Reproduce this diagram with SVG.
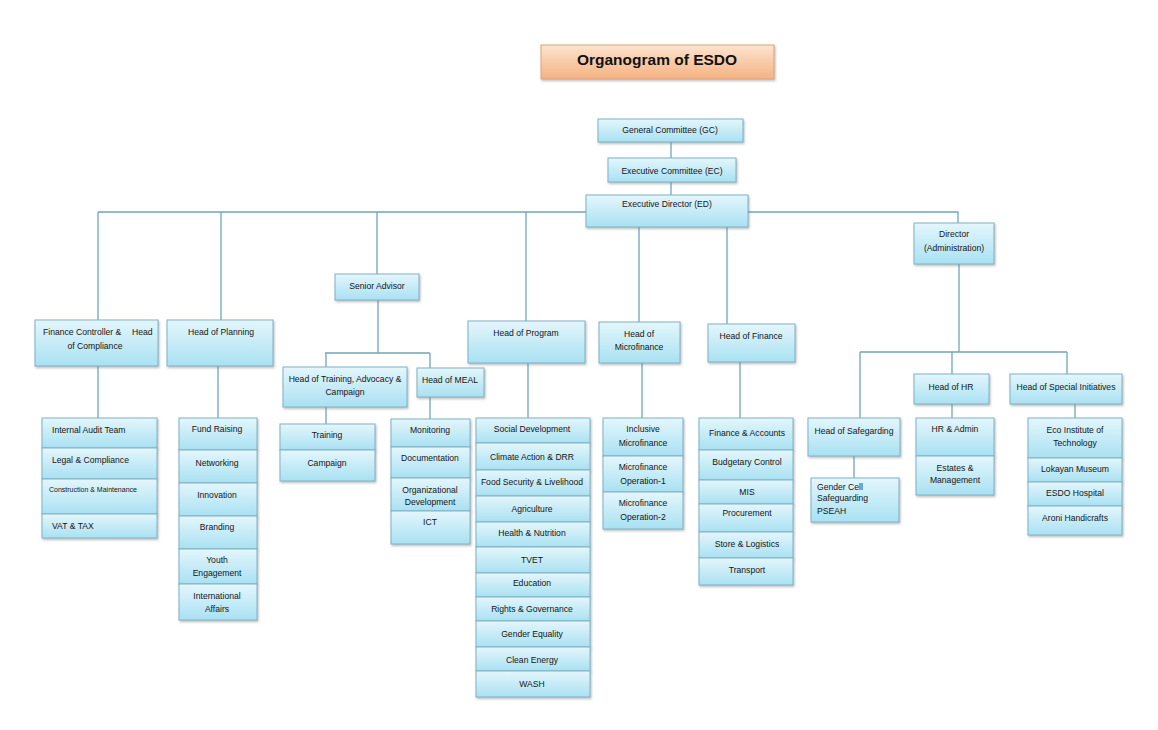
<svg xmlns="http://www.w3.org/2000/svg" width="1158" height="730" viewBox="0 0 1158 730">
<defs>
<linearGradient id="gb" x1="0" y1="0" x2="0" y2="1">
<stop offset="0" stop-color="#e4f6fc"/>
<stop offset="1" stop-color="#a9e1f2"/>
</linearGradient>
<linearGradient id="go" x1="0" y1="0" x2="0" y2="1">
<stop offset="0" stop-color="#fde4cf"/>
<stop offset="1" stop-color="#f5b183"/>
</linearGradient>
<filter id="sh" x="-10%" y="-10%" width="120%" height="130%">
<feDropShadow dx="1" dy="1.5" stdDeviation="1" flood-color="#777" flood-opacity="0.5"/>
</filter>
</defs>
<style>
.b{fill:url(#gb);stroke:#7fb3c6;stroke-width:1;filter:url(#sh)}
.o{fill:url(#go);stroke:#e0a57a;stroke-width:1;filter:url(#sh)}
text{font-family:"Liberation Sans",Arial,sans-serif;font-size:8.6px;fill:#151515;text-anchor:middle}
.l{text-anchor:start}
.s{font-size:7px}
.ttl{font-size:15.5px;font-weight:bold;fill:#111}
.c path{fill:none;stroke:#6fa7bb;stroke-width:1.3}
</style>
<rect width="1158" height="730" fill="#fff"/>
<g class="c" id="connectors">
<path d="M671 142V158M671 182V195"/>
<path d="M98 212H958V223"/>
<path d="M98 212V320M221 212V320M377 212V274M526 212V321M639 227V322M727 227V324"/>
<path d="M98 366V418M218 366V418M740 362V418M642 363V418M528 363V418"/>
<path d="M378 300V353M325 353H430M326 353V367M430 353V368M326 407V424M430 397V419"/>
<path d="M959 264V352M860 352H1067M860 352V418M952 352V374M1067 352V374M952 404V418M1075 404V418M854 456V478"/>
</g>
<g id="title"><rect class="o" x="541" y="45" width="233" height="34"/><text class="ttl" x="657" y="65">Organogram of ESDO</text></g>
<g id="gc"><rect class="b" x="598" y="119" width="145" height="23"/><text x="670" y="133">General Committee (GC)</text></g>
<g id="ec"><rect class="b" x="608" y="158" width="128" height="24"/><text x="672" y="174">Executive Committee (EC)</text></g>
<g id="ed"><rect class="b" x="586" y="195" width="162" height="32"/><text x="667" y="207">Executive Director (ED)</text></g>
<g id="fc"><rect class="b" x="35" y="320" width="123" height="46"/><text class="l" y="335"><tspan x="43">Finance Controller &amp;</tspan><tspan x="132">Head</tspan></text><text x="95" y="349">of Compliance</text></g>
<g id="plan"><rect class="b" x="167" y="320" width="106" height="46"/><text x="221" y="335">Head of Planning</text></g>
<g id="sa"><rect class="b" x="335" y="274" width="84" height="26"/><text x="377" y="289">Senior Advisor</text></g>
<g id="htac"><rect class="b" x="283" y="367" width="124" height="40"/><text x="345" y="382">Head of Training, Advocacy &amp;</text><text x="345" y="395">Campaign</text></g>
<g id="meal"><rect class="b" x="417" y="368" width="67" height="29"/><text x="450" y="383">Head of MEAL</text></g>
<g id="prog"><rect class="b" x="468" y="321" width="117" height="42"/><text x="526" y="336">Head of Program</text></g>
<g id="hmf"><rect class="b" x="599" y="322" width="81" height="41"/><text x="639" y="337">Head of</text><text x="639" y="350">Microfinance</text></g>
<g id="hfin"><rect class="b" x="708" y="324" width="87" height="38"/><text x="751" y="339">Head of Finance</text></g>
<g id="dir"><rect class="b" x="914" y="223" width="80" height="41"/><text x="954" y="237">Director</text><text x="954" y="251">(Administration)</text></g>
<g id="safe"><rect class="b" x="808" y="418" width="92" height="38"/><text x="854" y="434">Head of Safegarding</text></g>
<g id="hhr"><rect class="b" x="914" y="374" width="75" height="30"/><text x="951" y="390">Head of HR</text></g>
<g id="hsi"><rect class="b" x="1010" y="374" width="112" height="30"/><text x="1066" y="390">Head of Special Initiatives</text></g>
<g id="audit">
<rect class="b" x="42" y="418" width="115" height="30"/><text class="l" x="52" y="433">Internal Audit Team</text>
<rect class="b" x="42" y="448" width="115" height="31"/><text class="l" x="52" y="463">Legal &amp; Compliance</text>
<rect class="b" x="42" y="479" width="115" height="35"/><text class="l s" x="49" y="492">Construction &amp; Maintenance</text>
<rect class="b" x="42" y="514" width="115" height="24"/><text class="l" x="52" y="529">VAT &amp; TAX</text>
</g>
<g id="planlist">
<rect class="b" x="179" y="418" width="78" height="32"/><text x="217" y="432">Fund Raising</text>
<rect class="b" x="179" y="450" width="78" height="33"/><text x="217" y="466">Networking</text>
<rect class="b" x="179" y="483" width="78" height="33"/><text x="217" y="498">Innovation</text>
<rect class="b" x="179" y="516" width="78" height="33"/><text x="217" y="530">Branding</text>
<rect class="b" x="179" y="549" width="78" height="35"/><text x="217" y="563">Youth</text><text x="217" y="576">Engagement</text>
<rect class="b" x="179" y="584" width="78" height="36"/><text x="217" y="599">International</text><text x="217" y="612">Affairs</text>
</g>
<g id="tlist">
<rect class="b" x="280" y="424" width="95" height="26"/><text x="327" y="438">Training</text>
<rect class="b" x="280" y="450" width="95" height="31"/><text x="327" y="466">Campaign</text>
</g>
<g id="meallist">
<rect class="b" x="391" y="419" width="79" height="28"/><text x="430" y="433">Monitoring</text>
<rect class="b" x="391" y="447" width="79" height="31"/><text x="430" y="461">Documentation</text>
<rect class="b" x="391" y="478" width="79" height="33"/><text x="430" y="493">Organizational</text><text x="430" y="505">Development</text>
<rect class="b" x="391" y="511" width="79" height="33"/><text x="430" y="525">ICT</text>
</g>
<g id="proglist">
<rect class="b" x="476" y="418" width="114" height="25"/><text x="532" y="432">Social Development</text>
<rect class="b" x="476" y="443" width="114" height="27"/><text x="532" y="460">Climate Action &amp; DRR</text>
<rect class="b" x="476" y="470" width="114" height="26"/><text x="532" y="485">Food Security &amp; Livelihood</text>
<rect class="b" x="476" y="496" width="114" height="26"/><text x="532" y="512">Agriculture</text>
<rect class="b" x="476" y="522" width="114" height="25"/><text x="532" y="536">Health &amp; Nutrition</text>
<rect class="b" x="476" y="547" width="114" height="26"/><text x="532" y="563">TVET</text>
<rect class="b" x="476" y="573" width="114" height="24"/><text x="532" y="586">Education</text>
<rect class="b" x="476" y="597" width="114" height="24"/><text x="532" y="612">Rights &amp; Governance</text>
<rect class="b" x="476" y="621" width="114" height="26"/><text x="532" y="637">Gender Equality</text>
<rect class="b" x="476" y="647" width="114" height="24"/><text x="532" y="663">Clean Energy</text>
<rect class="b" x="476" y="671" width="114" height="26"/><text x="532" y="687">WASH</text>
</g>
<g id="mflist">
<rect class="b" x="603" y="418" width="80" height="38"/><text x="643" y="432">Inclusive</text><text x="643" y="446">Microfinance</text>
<rect class="b" x="603" y="456" width="80" height="36"/><text x="643" y="470">Microfinance</text><text x="643" y="484">Operation-1</text>
<rect class="b" x="603" y="492" width="80" height="37"/><text x="643" y="506">Microfinance</text><text x="643" y="520">Operation-2</text>
</g>
<g id="finlist">
<rect class="b" x="699" y="418" width="94" height="32"/><text x="747" y="436">Finance &amp; Accounts</text>
<rect class="b" x="699" y="450" width="94" height="30"/><text x="747" y="465">Budgetary Control</text>
<rect class="b" x="699" y="480" width="94" height="24"/><text x="747" y="495">MIS</text>
<rect class="b" x="699" y="504" width="94" height="28"/><text x="747" y="516">Procurement</text>
<rect class="b" x="699" y="532" width="94" height="26"/><text x="747" y="547">Store &amp; Logistics</text>
<rect class="b" x="699" y="558" width="94" height="27"/><text x="747" y="573">Transport</text>
</g>
<g id="gender">
<rect class="b" x="811" y="478" width="88" height="44"/><text class="l" x="817" y="490">Gender Cell</text><text class="l" x="817" y="501">Safeguarding</text><text class="l" x="817" y="514">PSEAH</text>
</g>
<g id="hrlist">
<rect class="b" x="916" y="418" width="78" height="38"/><text x="955" y="432">HR &amp; Admin</text>
<rect class="b" x="916" y="456" width="78" height="39"/><text x="955" y="471">Estates &amp;</text><text x="955" y="483">Management</text>
</g>
<g id="silist">
<rect class="b" x="1028" y="418" width="94" height="40"/><text x="1075" y="433">Eco Institute of</text><text x="1075" y="446">Technology</text>
<rect class="b" x="1028" y="458" width="94" height="24"/><text x="1075" y="472">Lokayan Museum</text>
<rect class="b" x="1028" y="482" width="94" height="24"/><text x="1075" y="496">ESDO Hospital</text>
<rect class="b" x="1028" y="506" width="94" height="29"/><text x="1075" y="521">Aroni Handicrafts</text>
</g>
</svg>
